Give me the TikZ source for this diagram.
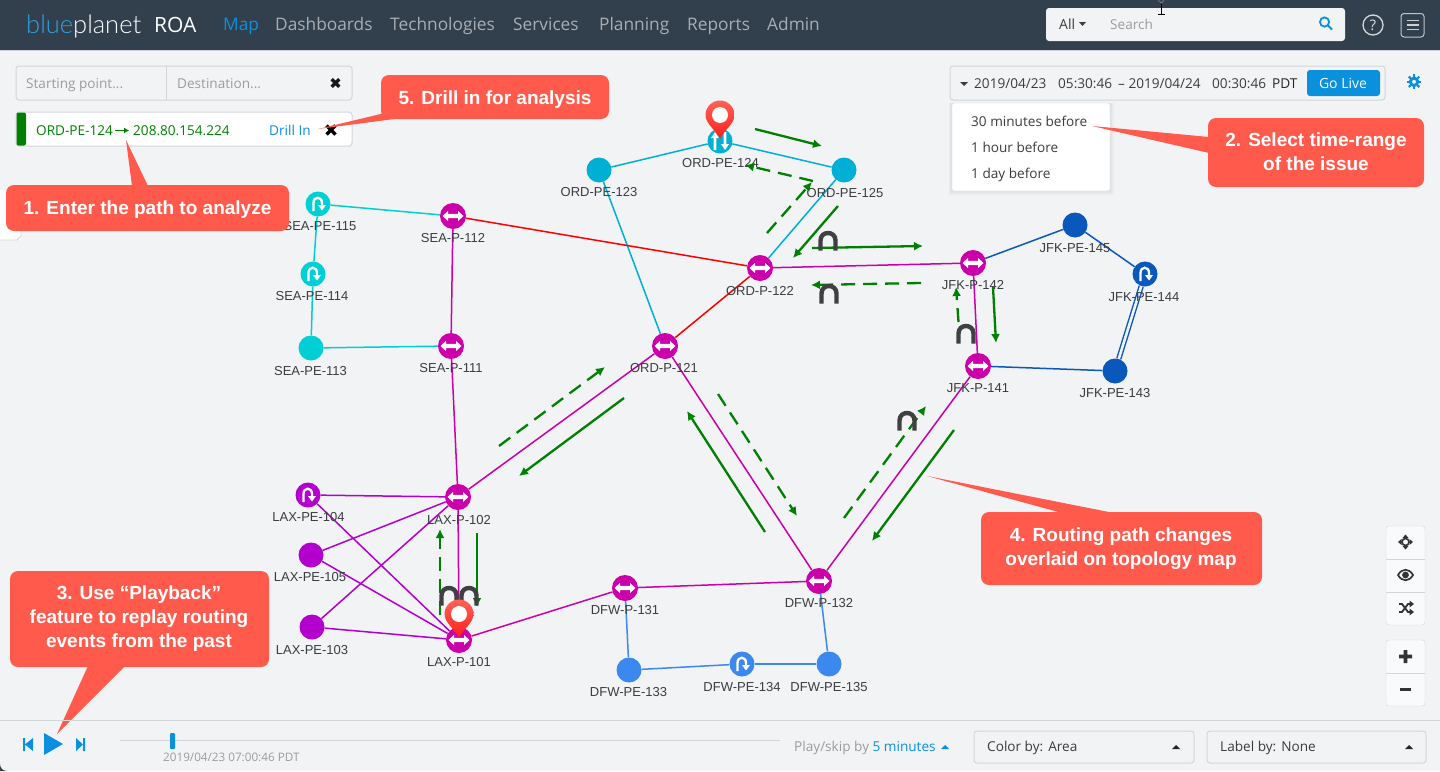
\documentclass[tikz,border=0pt]{standalone}
\usepackage{fontspec}
\setmainfont{Open Sans}
\newfontfamily\lab{Liberation Sans}
\usetikzlibrary{arrows.meta,backgrounds}
\definecolor{bgc}{HTML}{F1F3F5}
\definecolor{bar}{HTML}{323F4D}
\definecolor{cal}{HTML}{FF5A4C}
\definecolor{sea}{HTML}{00CFD5}
\definecolor{ord}{HTML}{00B0D4}
\definecolor{pink}{HTML}{CC00AA}
\definecolor{lax}{HTML}{B400CF}
\definecolor{jfk}{HTML}{0A58BC}
\definecolor{dfw}{HTML}{3B88EE}
\definecolor{ui}{HTML}{0A90DC}
\definecolor{gr}{HTML}{008000}
\definecolor{hair}{HTML}{D3D6D9}
\definecolor{gtxt}{HTML}{9A9DA0}
\definecolor{dtxt}{HTML}{3A3D40}
\definecolor{navg}{HTML}{A8AEB4}
\definecolor{brgc}{HTML}{404042}
\pgfdeclarelayer{links}
\pgfsetlayers{links,main}
\tikzset{
 lk/.style={line width=1.5pt},
 pnode/.style={circle,fill=#1,minimum size=26pt,inner sep=0pt},
 pe/.style={circle,fill=#1,minimum size=25pt,inner sep=0pt},
 lbl/.style={font=\lab\fontsize{13}{15}\selectfont,text=dtxt,inner sep=0pt},
 gs/.style={draw=gr,line width=2.3pt,-{Latex[length=9pt,width=9pt]}},
 gd/.style={gs,dash pattern=on 14pt off 8pt},
 nav/.style={font=\fontsize{17.3}{20}\selectfont,text=navg,anchor=base west,inner sep=0pt},
 uit/.style={font=\fontsize{13.6}{16}\selectfont,inner sep=0pt,anchor=base west,text=dtxt},
 calt/.style={font=\lab\bfseries\fontsize{19}{24}\selectfont,text=white,inner sep=0pt,align=center},
 box/.style={draw=hair,line width=1pt,rounded corners=3pt},
 pics/bidir/.style={code={\fill[white] (-10.5,0)--(-5,-5)--(-5,-2.2)--(5,-2.2)--(5,-5)--(10.5,0)--(5,5)--(5,2.2)--(-5,2.2)--(-5,5)--cycle;}},
 pics/uturn/.style={code={\draw[white,line width=2.3pt] (-4.5,7)--(-4.5,-1) .. controls (-4.5,-8) and (4,-8) .. (4,-1)--(4,1.5);\fill[white] (0,1)--(8,1)--(4,6.5)--cycle;}},
 pics/updown/.style={code={\fill[white] (-5,-9)--(-9,-3)--(-6.3,-3)--(-6.3,9)--(-3.7,9)--(-3.7,-3)--(-1,-3)--cycle;\fill[white] (5,9)--(9,3)--(6.3,3)--(6.3,-9)--(3.7,-9)--(3.7,3)--(1,3)--cycle;}},
 pics/brg/.style={code={\draw[color=brgc,line width=4.4pt] (-7.5,10.5)--(-7.5,0.5) .. controls (-7.5,-9.5) and (7.5,-9.5) .. (7.5,0.5)--(7.5,10.5);}},
 pics/pin/.style={code={\path[top color=cal!95!white,bottom color=red!65!cal,draw=none] (0,24) .. controls (-4,15) and (-14.5,9) .. (-14.5,0) .. controls (-14.5,-8) and (-8,-14.5) .. (0,-14.5) .. controls (8,-14.5) and (14.5,-8) .. (14.5,0) .. controls (14.5,9) and (4,15) .. (0,24) -- cycle;\fill[white] (0,0) circle[radius=8pt];}},
 pics/cross/.style={code={\draw[line width=3.2pt,#1] (-4.5,-4.5)--(4.5,4.5) (-4.5,4.5)--(4.5,-4.5);}},
}
\newcommand{\tnode}[7][pnode]{%
 \node[#1=#5] (#2) at (#3,#4) {};\node[lbl] (#2l) at (#7) {#6};}
\begin{document}
\begin{tikzpicture}[x=1pt,y=-1pt]
\useasboundingbox (0,0) rectangle (1440,771);
\begin{pgfonlayer}{links}
\fill[bgc] (0,0) rectangle (1440,771);
\end{pgfonlayer}
\fill[bar] (0,771) -- (0,764) .. controls (0,768) and (3,771) .. (7,771) -- cycle;
% top bar
\fill[bar] (0,0) rectangle (1440,50);
\draw[color=hair,line width=.8pt] (0,50.5)--(1440,50.5);
\node[inner sep=0,anchor=base west,font=\fontsize{25.5}{28}\selectfont] (logo) at (26,33) {\textcolor{ui!85!white}{\fontspec{Lato Light}blue}\textcolor{white}{\fontspec{Lato Light}planet}};
\node[inner sep=0,anchor=base west,font=\fontsize{21}{24}\selectfont,text=white] (roa) at (154,32) {ROA};
\node[nav,text=ui] (nmap) at (223,30) {Map};
\node[nav] (ndash) at (275,30) {Dashboards};
\node[nav] (ntech) at (390,30) {Technologies};
\node[nav] (nserv) at (513,30) {Services};
\node[nav] (nplan) at (599,30) {Planning};
\node[nav] (nrep) at (687,30) {Reports};
\node[nav] (nadm) at (767,30) {Admin};
% search
\fill[bgc,rounded corners=3pt] (1046,8) rectangle (1345,41);
\node[uit,font=\fontsize{14}{16}\selectfont] (sall) at (1059,29) {All};
\fill[dtxt] (1079,22)--(1086,22)--(1082.5,26)--cycle;
\node[uit,text=gtxt] (ssearch) at (1110,29) {Search};
\draw[ui,line width=1.8pt] (1324.5,22) circle[radius=4.6pt] (1328,25.5)--(1332,29.5);
\draw[color=white!80!bar,line width=1.3pt] (1373,25) circle[radius=10pt];
\node[font=\fontsize{14.5}{16}\selectfont,text=white!85!bar,inner sep=0] (qm) at (1373,25) {?};
\draw[color=white!70!bar,line width=1pt,rounded corners=3pt] (1401,13.5) rectangle (1424,37);
\draw[color=white!75!bar,line width=1.7pt] (1406.5,20.5)--(1418.5,20.5) (1406.5,25)--(1418.5,25) (1406.5,29.5)--(1418.5,29.5);
\draw[black,line width=.8pt] (1158,14)--(1164.5,14) (1161.2,3)--(1161.2,14);
\draw[color=gray,line width=.8pt] (1158.5,0.5)--(1161.2,3)--(1164,0.5);
% left inputs
\draw[box] (16,66) rectangle (352,100);
\draw[color=hair,line width=1pt] (166,66)--(166,100);
\node[uit,text=gtxt] (start) at (26,88) {Starting point...};
\node[uit,text=gtxt] (dest) at (177,88) {Destination...};
\pic[scale=.85] at (335.5,83) {cross=black!90};
\fill[white,rounded corners=3pt] (16,112) rectangle (352,146);
\draw[box] (16,112) rectangle (352,146);
\fill[gr,rounded corners=2pt] (16.5,112.5) rectangle (26,145.5);
\node[uit,text=gr] (pth) at (36,135) {ORD-PE-124};
\draw[gr,line width=1.6pt,-{Latex[length=5pt,width=6pt]}] (115,130.5)--(129,130.5);
\node[uit,text=gr] (pth2) at (133,135) {208.80.154.224};
\node[uit,text=ui] (drill) at (269,135) {Drill In};
\pic at (331,130) {cross=black};
% stub panel
\fill[white] (0,190) rectangle (21,240);
\draw[color=hair,line width=.8pt] (0,240)--(17,240) -- (21,236)--(21,200);
% date
\draw[box] (950,66) rectangle (1385,100);
\fill[dtxt] (960,82)--(968,82)--(964,86)--cycle;
\node[uit] (d1) at (974,88) {2019/04/23};
\node[uit] (d2) at (1058,88) {05:30:46};
\node[uit] (d3) at (1118,88) {– 2019/04/24};
\node[uit] (d4) at (1212,88) {00:30:46};
\node[uit,text=black!85] (d5) at (1272,88) {PDT};
\fill[ui,rounded corners=3pt] (1307,70) rectangle (1380,96);
\node[uit,text=white,anchor=center,font=\fontsize{14}{16}\selectfont] (golive) at (1343,83.5) {Go Live};
% gear
\draw[ui,line width=3pt] (1414,81.8) circle[radius=3.7pt];
\foreach \a in {0,45,...,315}{\draw[ui,line width=2.2pt] (1414,81.8)++(\a:5.2)--++(\a:2.2);}
% dropdown
\fill[black,opacity=.03] (949,103) rectangle (1114,195);
\fill[black,opacity=.03] (950,103) rectangle (1112,193);
\fill[white,rounded corners=2pt,draw=hair] (952,103) rectangle (1110,191);
\node[uit] (m1) at (971,126) {30 minutes before};
\node[uit] (m2) at (971,152) {1 hour before};
\node[uit] (m3) at (971,178) {1 day before};
% network nodes
\tnode[pe]{sa}{318}{204}{sea}{SEA-PE-115}{320,226}
\tnode[pe]{sb}{313}{274}{sea}{SEA-PE-114}{312,296}
\tnode[pe]{sc}{311}{348}{sea}{SEA-PE-113}{310.5,371}
\tnode{sd}{453}{216}{pink}{SEA-P-112}{453,238}
\tnode{se}{451}{346}{pink}{SEA-P-111}{451,368}
\tnode[pe]{oa}{599}{170}{ord}{ORD-PE-123}{599,192}
\tnode[pe]{ob}{720}{141}{ord}{ORD-PE-124}{720.5,163}
\tnode[pe]{oc}{844}{170}{ord}{ORD-PE-125}{845,193}
\tnode{od}{760}{268}{pink}{ORD-P-122}{760,291}
\tnode{oe}{665}{346}{pink}{ORD-P-121}{664,368}
\tnode{ja}{973}{263}{pink}{JFK-P-142}{973,285}
\tnode{jb}{978}{366}{pink}{JFK-P-141}{978,388}
\tnode[pe]{jc}{1075}{225}{jfk}{JFK-PE-145}{1075,248}
\tnode[pe]{jd}{1145}{274}{jfk}{JFK-PE-144}{1144,297}
\tnode[pe]{je}{1115}{371}{jfk}{JFK-PE-143}{1115,393}
\tnode[pe]{la}{308}{495}{lax}{LAX-PE-104}{308.5,517}
\tnode[pe]{lb}{311}{555}{lax}{LAX-PE-105}{310,577}
\tnode[pe]{lc}{312}{627}{lax}{LAX-PE-103}{312,650}
\tnode{ld}{458}{497}{pink}{LAX-P-102}{459,520}
\tnode{le}{459}{640}{pink}{LAX-P-101}{459,662}
\tnode{da}{625}{588}{pink}{DFW-P-131}{625,610}
\tnode{db}{819}{581}{pink}{DFW-P-132}{819,603}
\tnode[pe]{dc}{629}{670}{dfw}{DFW-PE-133}{628.5,692}
\tnode[pe]{dd}{742}{664}{dfw}{DFW-PE-134}{742,687}
\tnode[pe]{de}{829}{664}{dfw}{DFW-PE-135}{829,687}
\begin{pgfonlayer}{links}
\foreach \a/\b in {sa/sd,sa/sb,sb/sc,sc/se}{\draw[lk,sea] (\a)--(\b);}
\foreach \a/\b in {oa/ob,ob/oc,oc/od,oa/oe}{\draw[lk,ord] (\a)--(\b);}
\foreach \a/\b in {sd/od,od/oe}{\draw[lk,red] (\a)--(\b);}
\foreach \a/\b in {sd/se,se/ld,ld/oe,od/ja,ja/jb,oe/db,db/jb,ld/le,le/da,da/db}{\draw[lk,pink] (\a)--(\b);}
\foreach \a/\b in {la/ld,lb/ld,lc/ld,la/le,lb/le,lc/le}{\draw[lk,lax] (\a)--(\b);}
\foreach \a/\b in {ja/jc,jc/jd,je/jb}{\draw[lk,jfk] (\a)--(\b);}
\draw[line width=1.4pt,jfk,double=bgc,double distance=2.6pt] (jd)--(je);
\foreach \a/\b in {db/de,de/dd,dd/dc,dc/da}{\draw[lk,dfw] (\a)--(\b);}
\end{pgfonlayer}
% node icons
\foreach \n in {sd,se,od,oe,ja,jb,ld,le,da,db}{\pic at (\n) {bidir};}
\foreach \n in {sa,sb,jd,la,dd}{\pic at (\n) {uturn};}
\pic at (ob) {updown};
% green arrows
\foreach \i/\ax/\ay/\bx/\by/\st in {
 1/755/129/822/146/gs, 2/813/181/745/165/gd, 3/767/233/812/182/gd, 4/838/206/793/258/gs,
 5/812/248/923/246/gs, 6/921/283/811/285/gd, 7/993/287/996/343/gs, 8/958.5/322/956/287/gd,
 9/954/430/872/541/gs, 10/844/518/926/406/gd, 11/718/394/797/516/gd, 12/765/532/687/411/gs,
 13/624/398/519/476/gs, 14/499/446/605/367/gd, 15/440/615/440/529/gd, 16/477/533/477/607/gs}{
 \coordinate (g\i a) at (\ax,\ay);\coordinate (g\i b) at (\bx,\by);\draw[\st] (g\i a)--(g\i b);}
% bridges
\pic at (828,240) {brg};\pic at (829,293) {brg};\pic at (966,333) {brg};\pic at (907,420) {brg};
\pic at (449,595) {brg};\pic at (469,595) {brg};
% pins
\pic at (720,115) {pin};
\pic at (459,614) {pin};
% callouts
\fill[cal,rounded corners=8pt] (6,185) rectangle (289,231);
\fill[cal] (132,186)--(126,140)--(148,186)--cycle;
\node[calt] (c1) at (147.5,209.5) {1. Enter the path to analyze};
\fill[cal,rounded corners=8pt] (381,75) rectangle (609,119);
\fill[cal] (385,113)--(318,129)--(398,118.5)--cycle;
\node[calt] (c5) at (495,99.5) {5. Drill in for analysis};
\fill[cal,rounded corners=8pt] (1208,118) rectangle (1424,187);
\fill[cal] (1209,137)--(1092,126)--(1209,153)--cycle;
\node[calt] (c2) at (1316,152) {2. Select time-range\\of the issue};
\fill[cal,rounded corners=8pt] (10,571) rectangle (269,667);
\fill[cal] (88,666)--(57,734)--(125,666)--cycle;
\node[calt] (c3) at (139,619) {3. Use “Playback”\\feature to replay routing\\events from the past};
\fill[cal,rounded corners=8pt] (981,512) rectangle (1262,585);
\fill[cal] (1062,513)--(927,476)--(1114,513)--cycle;
\node[calt] (c4) at (1121,549) {4. Routing path changes\\overlaid on topology map};
% right toolbox
\fill[white!60!bgc,rounded corners=3pt,draw=hair] (1386,526) rectangle (1425,625);
\draw[color=hair] (1386,559)--(1425,559) (1386,592)--(1425,592);
\fill[white!60!bgc,rounded corners=3pt,draw=hair] (1386,640) rectangle (1425,706);
\draw[color=hair] (1386,673)--(1425,673);
\draw[color=black!80,line width=1.6pt] (1405.5,542) circle[radius=3.5pt];
\fill[black!80] (1405.5,534.5)--(1402.5,538)--(1408.5,538)--cycle (1405.5,549.5)--(1402.5,546)--(1408.5,546)--cycle (1398,542)--(1401.5,539)--(1401.5,545)--cycle (1413,542)--(1409.5,539)--(1409.5,545)--cycle;
\draw[color=black!80,line width=1.7pt] (1398,575) .. controls (1402,568) and (1409,568) .. (1413,575) .. controls (1409,582) and (1402,582) .. (1398,575) -- cycle;
\fill[black!80] (1405.5,575) circle[radius=3.4pt];
\draw[color=black!80,line width=1.8pt] (1399,604) -- (1402,604) -- (1408,612) -- (1410,612) (1399,612)--(1402,612)--(1408,604)--(1410,604);
\fill[black!80] (1409.5,600.5)--(1414,604)--(1409.5,607.5)--cycle (1409.5,608.5)--(1414,612)--(1409.5,615.5)--cycle;
\fill[black!80] (1399,654.7) rectangle (1412,658.3) (1403.7,650) rectangle (1407.3,663);
\fill[black!80] (1400,688) rectangle (1411,691.4);
% bottom bar
\draw[color=hair,line width=1pt] (0,720.5)--(1440,720.5);
\fill[ui] (23,738) rectangle (25,751) (33,738)--(33,751)--(25,744.5)--cycle;
\fill[ui] (44,733)--(44,755)--(63,744)--cycle;
\fill[ui] (85,738) rectangle (83,751) (76,738)--(76,751)--(83,744.5)--cycle;
\draw[color=hair,line width=1pt] (120,740.5)--(780,740.5);
\fill[ui,rounded corners=1pt] (170,733) rectangle (175,749);
\node[uit,text=gtxt,font=\fontsize{11.7}{14}\selectfont] (ts) at (163,761) {2019/04/23 07:00:46 PDT};
\node[uit,text=gtxt] (ps) at (794,751) {Play/skip by \textcolor{ui}{5 minutes}};
\fill[ui] (941,749)--(949,749)--(945,745)--cycle;
\draw[box] (974,731) rectangle (1194,763);
\node[uit] (cb) at (987,751) {Color by:\hspace{5pt}Area};
\fill[black!85] (1172,749)--(1180,749)--(1176,745)--cycle;
\draw[box] (1207,731) rectangle (1426,763);
\node[uit] (lbb) at (1220,751) {Label by:\hspace{5pt}None};
\fill[black!85] (1405,749)--(1413,749)--(1409,745)--cycle;
\end{tikzpicture}
\end{document}
